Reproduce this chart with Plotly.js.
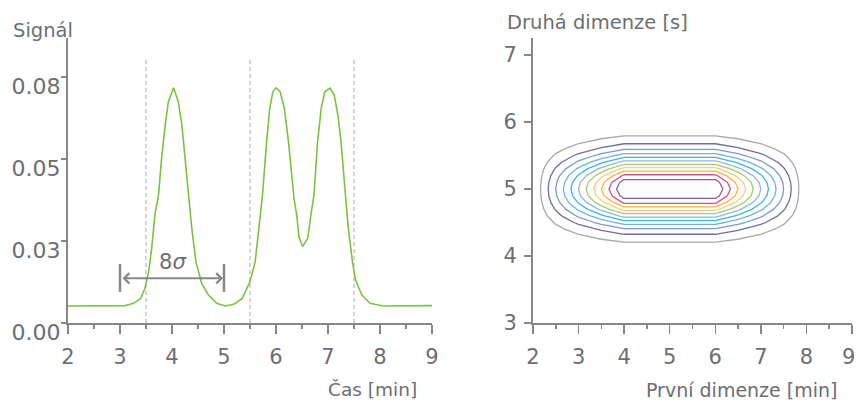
<!DOCTYPE html>
<html>
<head>
<meta charset="utf-8">
<script src="https://cdn.plot.ly/plotly-3.0.1.min.js"></script>
<style>html,body{margin:0;padding:0;background:#fff;}#chart{width:856px;height:401px;}</style>
</head>
<body>
<div id="chart"></div>
<script>
// ---- Left panel: 1D chromatogram ----
const timeMin = [2.0, 3.0, 3.1, 3.26, 3.4, 3.48, 3.55, 3.61, 3.67, 3.74, 3.8, 3.87, 3.93, 4.03, 4.12, 4.19, 4.25, 4.33, 4.38, 4.46, 4.57, 4.7, 4.86, 5.02, 5.2, 5.35, 5.5, 5.6, 5.67, 5.74, 5.82, 5.88, 5.94, 6.0, 6.08, 6.16, 6.24, 6.35, 6.4, 6.44, 6.51, 6.61, 6.67, 6.73, 6.8, 6.87, 6.94, 7.04, 7.12, 7.19, 7.25, 7.33, 7.39, 7.47, 7.53, 7.65, 7.81, 7.9, 8.06, 9.0];
const signal = [0.0052, 0.0052, 0.0053, 0.0060, 0.0075, 0.0106, 0.0156, 0.0228, 0.0329, 0.0390, 0.0502, 0.0604, 0.0675, 0.0717, 0.0675, 0.0604, 0.0502, 0.0390, 0.0289, 0.0187, 0.0121, 0.0085, 0.0060, 0.0052, 0.0058, 0.0075, 0.0126, 0.0187, 0.0289, 0.0390, 0.0553, 0.0655, 0.0705, 0.0717, 0.0705, 0.0655, 0.0553, 0.0375, 0.0329, 0.0263, 0.0233, 0.0258, 0.0329, 0.0390, 0.0553, 0.0655, 0.0705, 0.0716, 0.0695, 0.0634, 0.0553, 0.0390, 0.0289, 0.0187, 0.0131, 0.0085, 0.0060, 0.0057, 0.0052, 0.0053];
const windowBounds = [3.5, 5.5, 7.5];
const sigmaSpan = [3, 5];
const yTickVals = [0, 0.025, 0.05, 0.075];
const yTickText = ['0.00', '0.03', '0.05', '0.08'];

// ---- Right panel: 2D contour ----
const dim1 = [2, 2.5, 3, 3.5, 4, 4.5, 5, 5.5, 6, 6.5, 7, 7.5, 8];
const dim2 = [4.0, 4.1, 4.2, 4.3, 4.4, 4.5, 4.6, 4.7, 4.8, 4.9, 5.0, 5.1, 5.2, 5.3, 5.4, 5.5, 5.6, 5.7, 5.8, 5.9, 6.0];
const intensity = [
  [0, 0.06, 0.12, 0.17, 0.23, 0.23, 0.23, 0.23, 0.23, 0.17, 0.12, 0.06, 0],
  [0, 0.12, 0.24, 0.36, 0.48, 0.48, 0.48, 0.48, 0.48, 0.36, 0.24, 0.12, 0],
  [0, 0.24, 0.48, 0.71, 0.95, 0.95, 0.95, 0.95, 0.95, 0.71, 0.48, 0.24, 0],
  [0, 0.43, 0.86, 1.29, 1.72, 1.72, 1.72, 1.72, 1.72, 1.29, 0.86, 0.43, 0],
  [0, 0.72, 1.44, 2.15, 2.87, 2.87, 2.87, 2.87, 2.87, 2.15, 1.44, 0.72, 0],
  [0, 1.11, 2.23, 3.34, 4.45, 4.45, 4.45, 4.45, 4.45, 3.34, 2.23, 1.11, 0],
  [0, 1.59, 3.18, 4.77, 6.36, 6.36, 6.36, 6.36, 6.36, 4.77, 3.18, 1.59, 0],
  [0, 2.10, 4.20, 6.30, 8.40, 8.40, 8.40, 8.40, 8.40, 6.30, 4.20, 2.10, 0],
  [0, 2.56, 5.12, 7.68, 10.24, 10.24, 10.24, 10.24, 10.24, 7.68, 5.12, 2.56, 0],
  [0, 2.88, 5.77, 8.65, 11.53, 11.53, 11.53, 11.53, 11.53, 8.65, 5.77, 2.88, 0],
  [0, 3.00, 6.00, 9.00, 12.00, 12.00, 12.00, 12.00, 12.00, 9.00, 6.00, 3.00, 0],
  [0, 2.88, 5.77, 8.65, 11.53, 11.53, 11.53, 11.53, 11.53, 8.65, 5.77, 2.88, 0],
  [0, 2.56, 5.12, 7.68, 10.24, 10.24, 10.24, 10.24, 10.24, 7.68, 5.12, 2.56, 0],
  [0, 2.10, 4.20, 6.30, 8.40, 8.40, 8.40, 8.40, 8.40, 6.30, 4.20, 2.10, 0],
  [0, 1.59, 3.18, 4.77, 6.36, 6.36, 6.36, 6.36, 6.36, 4.77, 3.18, 1.59, 0],
  [0, 1.11, 2.23, 3.34, 4.45, 4.45, 4.45, 4.45, 4.45, 3.34, 2.23, 1.11, 0],
  [0, 0.72, 1.44, 2.15, 2.87, 2.87, 2.87, 2.87, 2.87, 2.15, 1.44, 0.72, 0],
  [0, 0.43, 0.86, 1.29, 1.72, 1.72, 1.72, 1.72, 1.72, 1.29, 0.86, 0.43, 0],
  [0, 0.24, 0.48, 0.71, 0.95, 0.95, 0.95, 0.95, 0.95, 0.71, 0.48, 0.24, 0],
  [0, 0.12, 0.24, 0.36, 0.48, 0.48, 0.48, 0.48, 0.48, 0.36, 0.24, 0.12, 0],
  [0, 0.06, 0.12, 0.17, 0.23, 0.23, 0.23, 0.23, 0.23, 0.17, 0.12, 0.06, 0]
];
const xTickVals = [2, 3, 4, 5, 6, 7, 8, 9];
const xTickText = ['2', '3', '4', '5', '6', '7', '8', '9'];
const levelColors = ['#a7a9ac', '#6e6fa0', '#8196cc', '#74b2e2', '#3db3ea', '#93b5de', '#a3cf6f', '#fdca85', '#fbb33a', '#dd4b95', '#8f5a9c'];

// ---- styles ----
const W = 856, H = 401;
const txt = '#6d6e71', axc = '#85878a';
const FONT = 'DejaVu Sans';
const px = v => v / W, py = v => 1 - v / H;

const colorscale = levelColors.map((c, i) => [i / (levelColors.length - 1), c]);

const traces = [
  {type: 'scatter', mode: 'lines', x: timeMin, y: signal, xaxis: 'x', yaxis: 'y',
   line: {color: '#7dc242', width: 1.6}, hoverinfo: 'skip'},
  {type: 'contour', x: dim1, y: dim2, z: intensity, xaxis: 'x2', yaxis: 'y2',
   autocontour: false, contours: {coloring: 'lines', start: 1, end: 11, size: 1, showlabels: false},
   colorscale: colorscale, zauto: false, zmin: 1, zmax: 11, showscale: false,
   line: {width: 1.3, smoothing: 0}, hoverinfo: 'skip'}
];

const baseX = {
  showgrid: false, zeroline: false, showline: true, linecolor: axc, linewidth: 2,
  ticks: 'outside', ticklen: 9, tickwidth: 1.5, tickcolor: axc,
  minor: {dtick: 0.5, tick0: 0, ticklen: 4, tickwidth: 1.5, tickcolor: axc, ticks: 'outside', showgrid: false},
  tickfont: {family: FONT, size: 21, color: txt}, fixedrange: true, range: [2, 9],
  ticklabelstandoff: 5
};
const yDom = [(H - 323) / H, (H - 38) / H];

const shapes = [];
windowBounds.forEach(b => shapes.push({type: 'line', xref: 'x', yref: 'y', x0: b, x1: b, y0: 0, y1: 0.0805,
  line: {color: '#c8c8c8', width: 1.5, dash: '4px,3px'}, layer: 'below'}));
sigmaSpan.forEach(b => shapes.push({type: 'line', xref: 'x', yref: 'y', x0: b, x1: b, y0: 0.0095, y1: 0.018,
  line: {color: axc, width: 2.5}}));

const annotations = [
  {xref: 'x', yref: 'y', x: sigmaSpan[1], y: 0.01363, ax: sigmaSpan[0], ay: 0.01363, axref: 'x', ayref: 'y',
   text: '', showarrow: true, arrowside: 'end+start', arrowhead: 4, startarrowhead: 4,
   arrowsize: 1, startarrowsize: 1, arrowwidth: 2, arrowcolor: axc, standoff: 1, startstandoff: 1},
  {xref: 'x', yref: 'y', x: (sigmaSpan[0] + sigmaSpan[1]) / 2, y: 0.0187, text: '8<i>σ</i>', showarrow: false,
   font: {family: FONT, size: 21, color: txt}},
  // last tick label of the right x axis, kept inside the page edge
  {xref: 'paper', yref: 'paper', x: px(848), y: py(357), xanchor: 'center', yanchor: 'middle',
   text: xTickText[xTickText.length - 1], showarrow: false, font: {family: FONT, size: 21, color: txt}},
  {xref: 'paper', yref: 'paper', x: px(11), y: py(30), xanchor: 'left', yanchor: 'middle', text: 'Signál', showarrow: false,
   font: {family: FONT, size: 19.5, color: txt}},
  {xref: 'paper', yref: 'paper', x: px(419), y: py(389), xanchor: 'right', yanchor: 'middle', text: 'Čas [min]', showarrow: false,
   font: {family: FONT, size: 18.5, color: txt}},
  {xref: 'paper', yref: 'paper', x: px(505), y: py(23), xanchor: 'left', yanchor: 'middle', text: 'Druhá dimenze [s]', showarrow: false,
   font: {family: FONT, size: 19.5, color: txt}},
  {xref: 'paper', yref: 'paper', x: px(839), y: py(390), xanchor: 'right', yanchor: 'middle', text: 'První dimenze [min]', showarrow: false,
   font: {family: FONT, size: 19, color: txt}}
];

const layout = {
  width: W, height: H, margin: {l: 0, r: 0, t: 0, b: 0},
  paper_bgcolor: '#fff', plot_bgcolor: '#fff', showlegend: false,
  xaxis: Object.assign({}, baseX, {domain: [px(68), px(432)], anchor: 'y',
    tickvals: xTickVals, ticktext: xTickText}),
  yaxis: {domain: yDom, anchor: 'x', range: [0, 0.0869], showgrid: false, zeroline: false, showline: true,
    linecolor: axc, linewidth: 2, ticks: 'outside', ticklen: 5, tickwidth: 1.5, tickcolor: axc,
    tickvals: yTickVals, ticktext: yTickText, tickfont: {family: FONT, size: 22, color: txt},
    ticklabelshift: 9, ticklabelstandoff: -4, fixedrange: true},
  xaxis2: Object.assign({}, baseX, {domain: [px(533), px(852)], anchor: 'y2',
    tickvals: xTickVals, ticktext: xTickText.map((t, i) => i === xTickText.length - 1 ? '' : t)}),
  yaxis2: {domain: yDom, anchor: 'x2', range: [3, 7.254], showgrid: false, zeroline: false, showline: true,
    linecolor: axc, linewidth: 2, ticks: 'outside', ticklen: 7, tickwidth: 1.5, tickcolor: axc, dtick: 1,
    tickfont: {family: FONT, size: 21, color: txt}, ticklabelstandoff: 3, fixedrange: true},
  shapes: shapes, annotations: annotations
};

Plotly.newPlot('chart', traces, layout, {staticPlot: true, displayModeBar: false});
</script>
</body>
</html>
